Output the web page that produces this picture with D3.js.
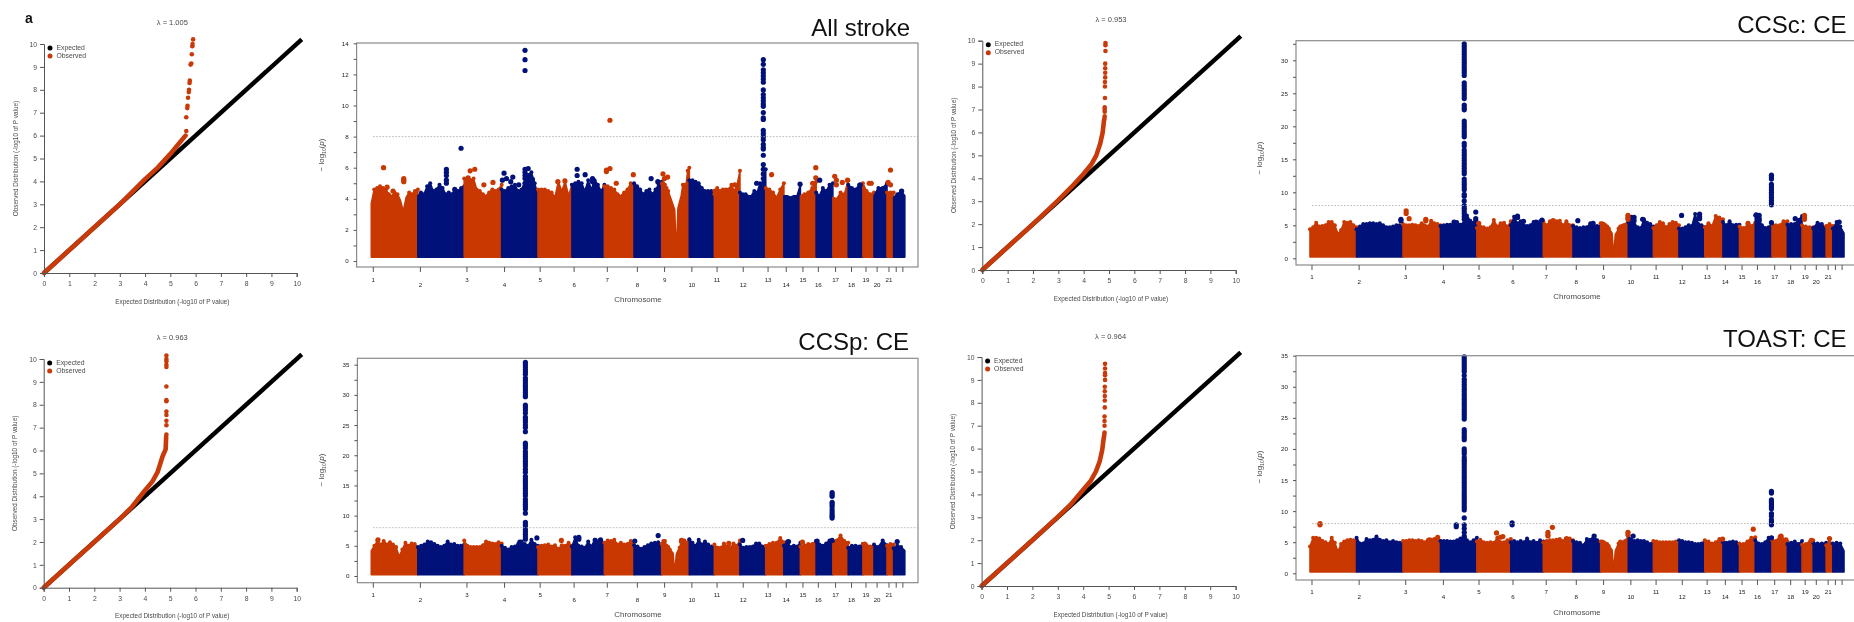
<!DOCTYPE html>
<html><head><meta charset="utf-8">
<script src="https://cdn.jsdelivr.net/npm/d3@7/dist/d3.min.js"></script>
<style>html,body{margin:0;background:#fff}svg{display:block}</style>
</head><body>
<svg id="c" width="1854" height="622"></svg>
<script>
const chromLabels=["1","2","3","4","5","6","7","8","9","10","11","12","13","14","15","16","17","18","19","20","21","22"];
const chromStarts=[0,251,501,703,899,1082,1257,1417,1566,1715,1850,1988,2127,2225,2314,2399,2489,2572,2651,2711,2781,2817,2877];
const chromTicks=[8,262,513,716,908,1091,1270,1432,1579,1726,1862,2003,2137,2235,2325,2408,2501,2587,2665,2725,2789,2828,2864];

/* Manhattan upper envelopes per chromosome */
const envAll=[[3.7,4.6,4.7,4.8,4.7,4.6,4.3,4.2,4.4,4.3,3.9,3.2,4.1,4.4,4.3,4.5,4.6],
[4.2,4.4,4.3,4.8,5.0,4.5,4.6,4.9,4.7,4.3,4.4,4.3,4.6,4.5,4.7,4.8],
[5.3,5.3,5.2,5.3,4.6,4.5,4.3,4.2,4.4,4.6,4.5,4.6,4.9],
[4.6,4.5,4.7,4.8,4.9,4.5,4.6,5.0,5.5,5.7,5.0,4.2],
[4.6,4.6,4.6,4.5,4.4,4.1,5.1,4.5,5.1,4.2,4.9],
[4.9,5.0,5.1,5.0,4.5,5.2,4.6,5.2,4.9,4.5,4.9],
[4.8,4.8,4.7,4.6,4.3,4.2,4.4,4.6,5.0,4.8],
[5.0,4.8,4.6,4.3,4.5,4.6,4.3,4.6,4.9,5.1],
[5.0,5.0,4.9,4.7,4.5,4.2,3.9,3.6,3.3,0.25,3.4,3.8,4.2,4.9,4.9,4.9,5.8,6.0],
[5.2,5.2,5.1,5.0,4.7,4.5,4.5,4.5,4.3],
[4.3,4.7,4.5,4.6,4.6,4.6,4.9,4.5,4.9,5.8],
[4.4,4.3,4.3,4.2,4.2,4.5,4.4,5.0,4.7,5.9],
[4.7,4.6,4.4,4.1,4.6,5.0],[4.2,4.2,4.1,4.2,4.2,4.9],[4.2,4.3,4.4,4.7,5.1],[4.4,4.2,4.7,4.5,4.9,5.0],[4.1,4.0,4.4,4.3,5.2],[4.9,4.7,4.6,4.9,4.7],[5.0,4.5,4.3,4.4],[4.2,4.7,4.7,5.0],[4.4,4.4,4.4],[4.1,4.3,4.5,4.2]];
const envCCSc=[[4.4,4.7,5.4,4.8,4.9,5.0,5.5,5.5,5.0,3.7,4.3,5.5,5.4,5.5,5.0,4.7],
[4.4,4.8,5.2,5.2,5.3,5.3,5.2,5.3,5.0,4.7,4.7,4.8,5.0,5.0,4.7],
[5.2,5.0,5.0,5.1,5.0,4.9,5.3,5.0,4.8,5.7,5.3,5.2,5.0],
[4.9,5.0,5.1,5.1,5.1,5.5,5.1,5.3,6.5,5.7,5.4,5.0],
[4.6,4.8,4.7,4.5,4.7,5.8,4.8,5.3,5.4,4.8,5.6],
[5.0,6.3,5.3,5.6,5.0,4.9,5.0,5.5,5.0,5.6,5.1],
[5.6,5.0,5.6,5.4,5.6,5.7,5.0,5.6,5.0,5.0],
[4.9,4.7,4.6,4.7,4.7,5.3,5.0,4.9,4.8],
[5.3,5.3,5.2,5.0,4.8,4.5,4.2,3.8,0.2,3.6,4.0,4.5,4.8,4.9,5.0,5.1,5.2,6.5],
[5.5,6.3,5.1,4.7,4.6,5.9,5.4,5.2,4.8],
[4.6,5.0,5.5,5.3,4.7,5.2,5.5,5.4,5.0],
[4.5,4.5,4.7,5.0,4.9,6.7,5.2,5.0,4.7],
[4.7,5.3,4.9,6.4,6.2,5.9],[5.5,5.0,5.6,5.0,5.1,5.1],[4.8,4.6,4.9,4.9,5.4],[6.5,5.9,5.0,4.6,4.7,5.2],[5.2,5.0,5.0,5.6,5.6],[5.1,5.2,5.2,5.8,6.4],[5.0,4.8,4.7,4.7],[4.6,5.4,5.2,4.5],[4.9,5.2,4.9],[4.5,5.5,4.8,3.8]];
const envCCSp=[[4.2,5.0,5.8,5.2,5.8,5.2,5.6,5.2,4.8,3.2,4.4,5.5,5.0,5.4,5.3,4.7],
[4.8,5.0,5.2,5.7,5.6,5.3,5.0,4.8,5.0,5.7,5.2,5.3,5.0,5.0,5.2],
[5.9,5.0,4.8,4.8,4.8,4.8,5.1,5.7,5.5,5.4,5.3,5.6,5.4],
[5.0,4.7,4.4,4.8,4.9,5.3,5.7,5.3,5.0,6.0,5.3,5.0],
[4.8,5.0,5.1,5.2,4.9,5.1,4.5,5.1,5.0,5.5,5.0],
[4.9,6.4,5.0,4.9,4.7,5.7,4.9,6.0,5.6,5.9,5.2],
[5.5,5.9,5.8,6.0,5.2,5.5,5.2,5.3,5.8,5.1],
[5.1,4.9,4.5,4.8,5.1,5.4,5.5,5.6,5.1],
[5.3,5.8,5.8,5.0,4.8,4.4,4.1,3.8,0.3,3.6,4.2,4.7,5.0,5.9,5.9,5.0,5.6,6.0],
[6.1,5.5,5.0,6.0,5.2,5.7,5.2,4.9,4.7],
[5.2,4.7,4.7,5.4,4.8,4.7,5.4,5.0,5.9],
[5.2,4.7,4.8,4.8,4.9,5.4,5.4,4.9,4.9],
[5.0,5.3,5.5,5.5,6.3,5.6],[5.0,5.7,4.8,5.0,4.9,5.5],[4.9,5.1,5.3,5.3,5.8],[5.8,5.2,5.0,5.4,5.9,5.2],[5.7,5.9,6.7,5.8,5.5],[4.7,5.0,5.0,4.9,5.3],[5.3,5.1,4.9,5.0],[5.2,4.8,5.9,5.1],[5.0,5.3,5.2],[4.6,5.0,4.8,4.2]];
const envTOAST=[[4.3,5.7,5.7,5.6,5.2,5.0,4.7,5.7,4.9,3.5,4.7,5.1,5.3,5.4,5.3,5.4],
[5.7,4.8,4.8,5.5,5.3,5.4,5.9,5.4,5.2,5.3,5.0,5.2,5.0,4.9,4.8],
[5.2,5.2,5.3,5.3,5.2,5.3,5.2,5.0,5.4,5.4,5.5,5.6,5.2],
[5.2,5.2,5.2,5.1,5.1,5.3,5.6,5.8,5.3,5.0,5.3,5.7],
[5.1,5.4,5.0,4.9,5.0,4.9,5.7,5.0,5.0,5.3,5.5],
[5.0,5.2,5.0,5.2,5.0,5.6,5.0,5.2,4.9,5.3,5.1],
[5.0,5.2,5.3,5.3,5.4,5.5,5.2,5.3,5.6,5.3],
[5.2,5.0,4.9,4.5,5.5,5.4,6.0,5.3,4.9],
[5.1,5.1,5.0,4.8,4.7,4.4,4.1,3.8,0.2,3.6,4.2,4.8,5.1,5.0,5.0,5.2,5.3,6.6],
[6.1,5.4,5.2,5.3,5.2,5.2,5.0,4.7,5.0],
[5.2,5.1,5.0,5.0,5.0,5.0,5.0,5.1,4.6],
[5.3,5.2,5.0,5.0,4.9,4.7,4.7,4.8,5.2],
[5.3,5.1,4.8,5.0,5.5,5.0],[5.0,4.9,5.0,5.1,5.0,4.7],[4.8,4.7,5.1,5.7,5.8],[5.3,4.8,4.7,5.0,5.7,5.7],[5.3,5.2,5.9,5.4,5.1],[4.7,4.9,5.1,4.7,5.2],[4.6,4.7,5.0,5.3],[4.9,4.8,4.8,4.9],[4.5,5.0,4.7],[4.8,4.9,4.8,3.6]];

/* Manhattan individual points: [position, values...] */
const ptsAll=[[66,6.0],[85,4.75],[117,4.5],[175,5.1,5.2,5.3],[405,5.9,5.7,5.5,5.2,5.0],[450,4.6],[484,7.25],[522,5.35],[533,5.8],[558,5.9],[607,4.9],[656,5.05],[707,5.2],[716,5.65],[729,5.3],[752,5.1],[763,5.4],[795,4.9],[829,13.55,12.95,12.25,5.9,5.7,5.5,5.3,5.0,4.8],[846,5.95,5.5],[869,5.25],[1006,5.1],[1044,5.15],[1110,5.9,5.5],[1153,5.55],[1193,5.3,5.1],[1204,5.0],[1268,5.75,5.85],[1287,9.05,5.95],[1321,5.0],[1413,5.55],[1509,5.3],[1545,5.1],[1573,5.6],[1581,5.3],[1598,5.4],[1854,4.5],[1960,4.9],[2078,5.0],[2114,12.95,12.65,12.3,12.1,11.9,11.7,11.5,11,10.7,10.5,10.3,10.1,9.95,9.55,9.2,9.1,8.4,8.2,8.0,7.8,7.5,7.3,7.2,6.8,6.2,5.9,5.6,5.3,5.0],[2159,5.55],[2312,4.95],[2380,5.0],[2397,6.0,5.35],[2418,5.2],[2499,5.45],[2508,5.2,4.9],[2540,5.05],[2568,5.2],[2636,4.9],[2685,5.0],[2696,5.0],[2787,5.05],[2800,5.85,4.9],[2860,4.5]];
const ptsCCSc=[[490,5.9,5.7],[518,7.2,6.8],[534,6.0],[624,5.9,5.7],[776,5.5],[831,32.5,32.1,31.7,31.3,30.9,30.5,30.1,29.7,29.3,28.9,28.5,28.1,27.7,26.6,26.2,25.8,25.4,25,24.6,24.2,23.2,22.8,22.5,20.8,20.4,20,19.6,19.2,18.8,18.4,17.4,17,16.4,16,15.6,15.2,14.8,14.4,14,13.6,13.2,12.8,12,11.6,11.2,10.8,10.4,9.7,9.4,8.7,8,7.6,7.2,6.8,6.3,5.9],[893,7.0,6.0,5.6],[909,5.3],[1118,6.4,6.2],[1150,5.6],[1218,5.5],[1250,5.8],[1310,5.7],[1443,5.7],[1525,5.3],[1713,6.5,6.2,5.9],[1746,6.2,5.7],[1792,5.9],[2002,6.5],[2099,6.7,6.3,6],[2360,5.3],[2404,6.6],[2420,6.5,6.0,5.7],[2486,12.6,12.3,12,11.2,10.8,10.4,10,9.6,9.2,8.8,8.4,8.1,5.4],[2614,6.0],[2664,6.5,6.2,5.9],[2851,5.5]];
const ptsCCSp=[[36,6.0],[801,5.6],[831,35.4,35,34.6,34.2,33.8,33.4,32.8,32.4,32,31.6,31.2,30.8,30.4,30,29.7,28.3,27.9,27.5,27,26.3,25.9,25.5,25,24.6,23.9,22,21.6,21.2,20.6,20.2,19.8,19.4,19,18.6,18.2,17.7,17.2,16.5,16.1,15.7,15.3,14.9,14.5,14.1,13.7,13.3,12.7,12.3,11.9,11.5,11.1,10.4,8.9,8.5,8.1,7.7,7.3,6.9,6.5,6.1],[893,6.3],[1025,5.9],[1119,6.4,6.1],[1208,5.9],[1236,6.0],[1421,5.8],[1547,6.7],[1673,5.9,5.7],[1928,5.4],[2003,5.9],[2250,5.7],[2325,5.6],[2404,5.8],[2485,13.8,13.5,13.2,12.2,11.9,11.5,11,10.6,10.2,9.9,9.6,5.9],[2661,5.3],[2836,5.7]];
const ptsTOAST=[[54,8.0,7.8],[644,5.4],[688,5.8],[788,7.8,7.5],[831,34.8,34.4,34,33.6,33.2,32.8,32.4,31.8,31.2,30.8,30.4,30,29.6,29.2,28.8,28.4,28,27.6,27.2,26.8,26.4,26,25.6,25.2,24.8,23.1,22.7,22.3,21.9,21.5,20,19.6,19.2,18.6,18.2,17.8,17.4,17,16.6,16.2,15.8,15.4,15,14.6,14.2,13.8,13.4,13,12.6,12.2,11.8,11.4,11,10.6,10.2,8.9,7.8,7.2,6.6,6,5.8],[1005,6.5],[1025,5.8],[1039,5.9],[1089,8.1,7.8],[1282,6.6,6.2,6.0],[1306,7.4],[1382,5.6],[1531,6.0],[1713,6.6,6.2],[1741,6.0],[2223,5.5],[2388,7.1],[2486,13.2,12.9,11.8,11.5,11.2,10.8,10.4,9.6,9.2,8.6,8.3,8,7.8,5.7],[2538,6.0,5.7],[2564,5.4],[2701,5.3],[2799,5.6]];

/* QQ curves: [expected, observed] */
const qqExpected=[[0,0],[10.2,10.2]];
const qqAllCurve=[[0,0],[3,3],[4,4.1],[4.5,4.6],[5,5.2],[5.3,5.6],[5.6,6]];
const qqAllDots=[[5.63,6.2],[5.63,6.8],[5.67,7.2],[5.68,7.3],[5.7,7.65],[5.73,7.9],[5.74,8.0],[5.76,8.3],[5.77,8.4],[5.8,9.1],[5.83,9.15],[5.85,9.55],[5.87,9.9],[5.88,10],[5.9,10.2]];
const qqCCScCurve=[[0,0],[1,1],[2,2],[3,3.05],[3.5,3.6],[4,4.2],[4.3,4.6],[4.5,5],[4.65,5.5],[4.75,6],[4.8,6.5],[4.82,6.6]];
const qqCCScDots=[[4.83,6.7],[4.83,6.9],[4.83,7.0],[4.83,7.1],[4.84,7.5],[4.84,8.0],[4.84,8.2],[4.85,8.4],[4.85,8.6],[4.85,8.8],[4.85,9.0],[4.86,9.55],[4.86,9.8],[4.86,9.9]];
const qqCCSpCurve=[[0,0],[1,1],[2,2],[3,3],[3.5,3.55],[4,4.25],[4.3,4.65],[4.5,5.05],[4.6,5.4],[4.7,5.75],[4.82,6.05],[4.84,6.6]];
const qqCCSpDots=[[4.85,6.7],[4.85,7.1],[4.85,7.3],[4.85,7.55],[4.85,7.7],[4.85,8.15],[4.85,8.2],[4.85,8.8],[4.85,9.65],[4.85,9.75],[4.85,9.9],[4.85,10],[4.85,10.15]];
const qqTOASTCurve=[[0,0],[1,1],[2,2],[3,3.02],[3.5,3.55],[4,4.2],[4.3,4.6],[4.5,5],[4.65,5.45],[4.75,5.95],[4.8,6.4],[4.83,6.6]];
const qqTOASTDots=[[4.84,6.7],[4.84,7],[4.84,7.2],[4.84,7.4],[4.85,7.8],[4.85,8.1],[4.85,8.3],[4.85,8.5],[4.85,8.7],[4.86,9],[4.86,9.2],[4.86,9.3],[4.86,9.5],[4.86,9.7]];

const orange="#c83800", navy="#00127a", qqRed="#c83a0a", ink="#4a4a4a";
const font="'Liberation Sans',Arial,sans-serif";
const svg=d3.select("#c").style("font-family",font);
const chart=svg.append("g").style("filter","blur(0.55px)");

const qqPanels=[
 {lam:"λ = 1.005",x:[44,296.7],y:[273,44],ty:23,curve:qqAllCurve,dots:qqAllDots},
 {lam:"λ = 0.953",x:[982.3,1235.7],y:[270,40.7],ty:20,curve:qqCCScCurve,dots:qqCCScDots},
 {lam:"λ = 0.963",x:[43.7,296.7],y:[587.7,359],ty:338,curve:qqCCSpCurve,dots:qqCCSpDots},
 {lam:"λ = 0.964",x:[981.6,1235.6],y:[586,357],ty:337,curve:qqTOASTCurve,dots:qqTOASTDots}];
const man=[
 {title:"All stroke",tx:910,ty:35.5,box:[356.6,918,43,267],x:[371.3,904.8],y:[261,43.3],dom:14,ticks:d3.range(0,15,1),lab:2,env:envAll,pts:ptsAll,base:.25,lx:324,ly:155,row:[280,285],cy:300,thx:373},
 {title:"CCSc: CE",tx:1846.5,ty:32.5,box:[1296,1855,40.7,265],x:[1310,1844],y:[258.3,60.3],dom:30,ticks:d3.range(0,33,2.5),lab:5,env:envCCSc,pts:ptsCCSc,base:.2,lx:1262,ly:158,row:[277.5,282.5],cy:297,thx:1312},
 {title:"CCSp: CE",tx:909,ty:350,box:[357.4,918,358.3,582.7],x:[371.3,904.8],y:[576,364.7],dom:35,ticks:d3.range(0,36,2.5),lab:5,env:envCCSp,pts:ptsCCSp,base:.2,lx:324,ly:470,row:[595,600],cy:615,thx:373},
 {title:"TOAST: CE",tx:1846.5,ty:347,box:[1296,1855,355.7,580],x:[1310,1844],y:[573.3,355.7],dom:35,ticks:d3.range(0,36,2.5),lab:5,env:envTOAST,pts:ptsTOAST,base:.2,lx:1262,ly:467,row:[592.5,597.5],cy:612.5,thx:1312}];

qqPanels.forEach(p=>{
 const g=chart.append("g");
 const x=d3.scaleLinear().domain([0,10]).range(p.x), y=d3.scaleLinear().domain([0,10]).range(p.y);
 const line=d3.line().x(d=>x(d[0])).y(d=>y(d[1]));
 g.append("path").attr("d",line(qqExpected)).attr("fill","none").attr("stroke","#000").attr("stroke-width",4.4);
 g.append("path").attr("d",line(p.curve)).attr("fill","none").attr("stroke",qqRed).attr("stroke-width",4.6).attr("stroke-linecap","round").attr("stroke-linejoin","round");
 g.selectAll(".d").data(p.dots).join("circle").attr("cx",d=>x(d[0])).attr("cy",d=>y(d[1])).attr("r",2.3).attr("fill",qqRed);
 const ax=g.append("g").attr("transform",`translate(0,${p.y[0]})`).call(d3.axisBottom(x).ticks(10).tickSize(4).tickPadding(4));
 const ay=g.append("g").attr("transform",`translate(${p.x[0]},0)`).call(d3.axisLeft(y).ticks(10).tickSize(4).tickPadding(3));
 [ax,ay].forEach(a=>{a.selectAll("path,line").attr("stroke","#555").attr("stroke-width",1);a.selectAll("text").attr("font-size",6.8).attr("fill",ink).attr("font-family",font);});
 g.append("text").attr("x",(p.x[0]+p.x[1])/2+2).attr("y",p.y[0]+29).attr("text-anchor","middle").attr("dominant-baseline","middle").attr("font-size",6.4).attr("fill",ink).text("Expected Distribution (-log10 of P value)");
 g.append("text").attr("transform",`translate(${p.x[0]-28},${(p.y[0]+p.y[1])/2}) rotate(-90)`).attr("text-anchor","middle").attr("dominant-baseline","middle").attr("font-size",6.4).attr("fill",ink).text("Observed Distribution (-log10 of P value)");
 g.append("text").attr("x",(p.x[0]+p.x[1])/2+2).attr("y",p.ty).attr("text-anchor","middle").attr("dominant-baseline","middle").attr("font-size",7.5).attr("fill",ink).text(p.lam);
 [["Expected","#000",4],["Observed",qqRed,12]].forEach(([t,c,o])=>{
  g.append("circle").attr("cx",p.x[0]+6).attr("cy",p.y[1]+o).attr("r",2.5).attr("fill",c);
  g.append("text").attr("x",p.x[0]+12.5).attr("y",p.y[1]+o).attr("dominant-baseline","middle").attr("font-size",6.8).attr("fill",ink).text(t);
 });
});

man.forEach(m=>{
 const g=chart.append("g");
 const x=d3.scaleLinear().domain([0,2877]).range(m.x);
 const y=d3.scaleLinear().domain([0,m.dom]).range(m.y);
 const colourAt=pos=>d3.bisectRight(chromStarts,pos)%2===1?orange:navy;
 const area=d3.area().x(d=>x(d[0])).y0(y(m.base)).y1(d=>y(d[1]));
 m.env.forEach((vals,c)=>{
  const a=chromStarts[c],b=chromStarts[c+1];
  const pts=vals.map((v,i)=>[a+(b-a)*i/(vals.length-1),v]);
  const col=c%2===0?orange:navy;
  g.append("path").attr("d",area(pts)).attr("fill",col).attr("stroke",col).attr("stroke-width",1.6).attr("stroke-linejoin","round");
  g.append("g").selectAll("circle").data(pts.filter(d=>d[1]>=4.3)).join("circle").attr("cx",d=>x(d[0])).attr("cy",d=>y(d[1])).attr("r",2).attr("fill",col);
 });
 const flat=m.pts.flatMap(r=>r.slice(1).map(v=>[r[0],v]));
 g.append("g").selectAll("circle").data(flat).join("circle").attr("cx",d=>x(d[0])).attr("cy",d=>y(d[1])).attr("r",2.6).attr("fill",d=>colourAt(d[0]));
 g.append("line").attr("x1",m.thx).attr("x2",m.box[1]).attr("y1",y(8)).attr("y2",y(8)).attr("stroke","#aaa").attr("stroke-width",.8).attr("stroke-dasharray","1.6 1.6");
 g.append("rect").attr("x",m.box[0]).attr("y",m.box[2]).attr("width",m.box[1]-m.box[0]).attr("height",m.box[3]-m.box[2]).attr("fill","none").attr("stroke","#8a8a8a").attr("stroke-width",1.2);
 const ay=g.append("g").attr("transform",`translate(${m.box[0]},0)`).call(d3.axisLeft(y).tickValues(m.ticks).tickSize(3).tickPadding(5).tickFormat(d=>d%m.lab===0?d:""));
 ay.select(".domain").remove();
 ay.selectAll("line").attr("stroke","#555");
 ay.selectAll("text").attr("font-size",6.2).attr("fill","#222").attr("font-family",font);
 const ax=g.append("g").attr("transform",`translate(0,${m.box[3]})`).call(d3.axisBottom(x).tickValues(chromTicks).tickSize(5).tickFormat((d,i)=>chromLabels[i]&&i<21?chromLabels[i]:""));
 ax.select(".domain").remove();
 ax.selectAll("line").attr("stroke","#555");
 ax.selectAll("text").attr("font-size",6.2).attr("fill","#222").attr("font-family",font).attr("dy",null).attr("y",(d,i)=>m.row[i%2]-m.box[3]).attr("dominant-baseline","middle");
 g.append("text").attr("x",(m.x[0]+m.x[1])/2).attr("y",m.cy).attr("text-anchor","middle").attr("dominant-baseline","middle").attr("font-size",7.9).attr("fill",ink).text("Chromosome");
 const yl=g.append("text").attr("transform",`translate(${m.lx},${m.ly}) rotate(-90)`).attr("text-anchor","middle").attr("font-size",8).attr("fill",ink);
 yl.append("tspan").text("− log");
 yl.append("tspan").attr("font-size",5).attr("dy",1.5).text("10");
 yl.append("tspan").attr("dy",-1.5).text("(");
 yl.append("tspan").attr("font-style","italic").text("p");
 yl.append("tspan").text(")");
 svg.append("text").attr("x",m.tx).attr("y",m.ty).attr("text-anchor","end").attr("font-size",24).attr("fill","#111").text(m.title);
});
svg.append("text").attr("x",25).attr("y",22.5).attr("font-size",14).attr("font-weight","bold").attr("fill","#111").text("a");
</script>
</body></html>
